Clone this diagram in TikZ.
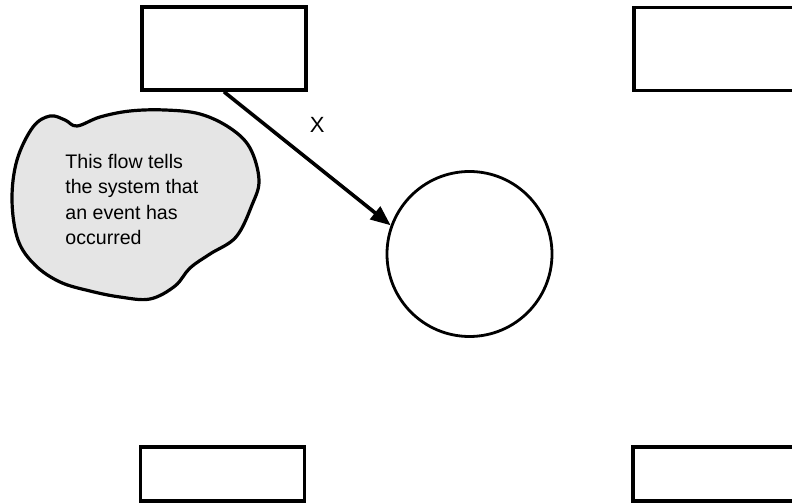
\documentclass[tikz,border=0pt]{standalone}
\usepackage{fontspec}
\setmainfont{Liberation Sans}
\usetikzlibrary{arrows.meta}

\begin{document}
\begin{tikzpicture}[
    x=0.5bp, y=-0.5bp,
    every node/.style={font=\fontsize{9.8bp}{12.65bp}\selectfont},
    terminator/.style={rectangle, draw=black, line width=1.8bp, fill=white,
                       minimum width=82bp, minimum height=41.5bp, inner sep=0pt},
    lowterm/.style={terminator, minimum height=27bp},
    process/.style={circle, draw=black, line width=1.4bp, fill=white,
                    minimum size=82.5bp, inner sep=0pt},
    blob/.style={draw=black, line width=1.6bp, fill=black!10},
    note/.style={align=left, inner sep=0pt},
    arr/.style={-{Triangle[length=10bp, width=8bp]}, line width=1.8bp, draw=black},
    arrlbl/.style={font=\fontsize{11bp}{13bp}\selectfont, inner sep=0pt}
]
\clip (0,0) rectangle (792,504);

% Terminators
\node[terminator] (srcTL) at (224,48.5) {};
\node[terminator] (srcTR) at (716,49) {};
\node[lowterm] (sinkBL) at (222.5,474) {};
\node[lowterm] (sinkBR) at (715,474) {};

% Process
\node[process] (proc) at (469.5,254) {};

% Annotation cloud
\draw[blob] plot[smooth cycle, tension=0.6] coordinates {
    (12,200) (17,160) (33,127) (50,116) (65,120) (77,126) (100,117) (130,111)
    (165,110) (200,114) (230,128) (250,148) (259,180) (252,205) (236,237)
    (210,254) (190,268) (175,286) (150,299) (120,297) (90,291) (60,282)
    (35,265) (18,240)};
\node[note, anchor=north west] (note) at (65,154)
    {This flow tells\\the system that\\an event has\\occurred};

% Event flow
\draw[arr] (srcTL.south) -- node[arrlbl, pos=0.42, above right=7bp]{X} (proc.160);

\end{tikzpicture}
\end{document}
